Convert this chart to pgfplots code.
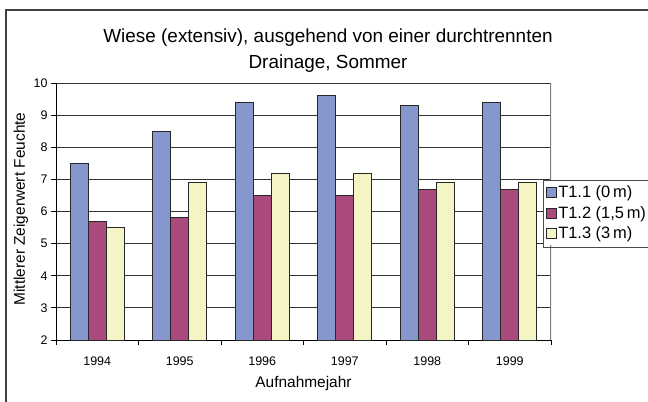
\documentclass[border=0pt]{standalone}
\usepackage{pgfplots}
\pgfplotsset{compat=1.18}
\usepackage{fontspec}
\setmainfont{Liberation Sans}
\definecolor{cblue}{RGB}{133,151,204}
\definecolor{cpurple}{RGB}{170,74,125}
\definecolor{cyellow}{RGB}{244,244,196}
\begin{document}
\begin{tikzpicture}[x=1bp,y=1bp]
\begin{axis}[
  at={(56bp,61bp)}, anchor=south west,
  width=495bp, height=257bp, scale only axis,
  xmin=-0.5, xmax=5.5, ymin=2, ymax=10,
  axis x line*=bottom, axis y line*=left,
  axis line style={black, line width=1bp},
  xtick={-0.5,0.5,1.5,2.5,3.5,4.5,5.5},
  xticklabels={,,,,,,},
  extra x ticks={0,1,2,3,4,5},
  extra x tick labels={1994,1995,1996,1997,1998,1999},
  extra x tick style={major tick length=0pt},
  ytick={2,3,4,5,6,7,8,9,10},
  major tick length=5bp, tick align=outside,
  tick style={black, line width=0.8bp},
  ymajorgrids, major grid style={black!80, line width=0.8bp},
  ybar=0pt, bar width=18bp,
  ticklabel style={font=\fontsize{12.5}{14}\selectfont},
  /pgf/number format/assume math mode=true,
  xticklabel style={yshift=-13bp},
  legend style={at={(0.9838,0.6226)}, anchor=north west, draw=none, fill=white,
    font=\fontsize{16.5}{19}\selectfont, inner xsep=3bp, inner ysep=4bp,
    nodes={inner sep=1.5bp}, row sep=4bp},
  legend cell align=left,
  legend image code/.code={\draw[#1,line width=0.6bp] (0bp,-5bp) rectangle (10bp,5bp);},
]
\draw[black!50, line width=1.5bp] (rel axis cs:1,0) -- (rel axis cs:1,1);
\addplot[fill=cblue, draw=black!85, line width=0.9bp] coordinates {(0,7.5) (1,8.5) (2,9.4) (3,9.6) (4,9.3) (5,9.4)};
\addplot[fill=cpurple, draw=black!85, line width=0.9bp] coordinates {(0,5.7) (1,5.8) (2,6.5) (3,6.5) (4,6.7) (5,6.7)};
\addplot[fill=cyellow, draw=black!85, line width=0.9bp] coordinates {(0,5.5) (1,6.9) (2,7.2) (3,7.2) (4,6.9) (5,6.9)};
\legend{{T1.1 (0\,m)},{T1.2 (1,5\,m)},{T1.3 (3\,m)}}
\end{axis}
\draw[black!70, line width=0.8bp] (543,221) rectangle (720,154);
\node[align=center, font=\fontsize{19}{26}\selectfont] at (328,350) {Wiese (extensiv), ausgehend von einer durchtrennten\\Drainage, Sommer};
\node[rotate=90, font=\fontsize{15.5}{18}\selectfont] at (21,192) {Mittlerer Zeigerwert Feuchte};
\node[font=\fontsize{15.5}{18}\selectfont] at (303.5,17) {Aufnahmejahr};
\draw[black!75, line width=1.8bp] (6,-20) -- (6,391) -- (700,391);
\pgfresetboundingbox
\path (0,0) rectangle (648,401);
\end{tikzpicture}
\end{document}
